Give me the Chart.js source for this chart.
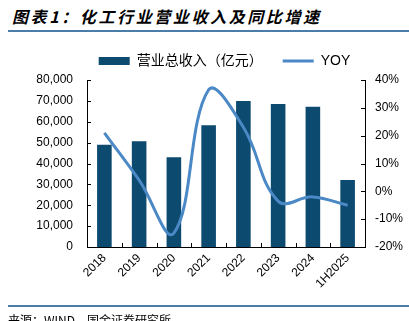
<!DOCTYPE html>
<html>
<head>
<meta charset="utf-8">
<script src="https://cdn.jsdelivr.net/npm/chart.js@4"></script>
<style>
  html, body { margin: 0; padding: 0; background: #fff; }
  #wrap { position: relative; width: 409px; height: 321px; overflow: hidden; }
  #chart { position: absolute; left: 0; top: 0; }
  .title {
    position: absolute; left: 12px; top: 4px;
    font: italic bold 16px "Noto Sans CJK SC", sans-serif;
    letter-spacing: 2.6px; color: #000; white-space: nowrap;
  }
  .rule { position: absolute; left: 8px; right: 0; height: 2px; background: #4a7ea8; }
  .source {
    position: absolute; left: 8px; top: 311px;
    font: 12px "Noto Sans CJK SC", sans-serif; color: #000; white-space: nowrap;
  }
</style>
</head>
<body>
<div id="wrap">
  <div class="title">图表1：化工行业营业收入及同比增速</div>
  <div class="rule" style="top:30px"></div>
  <canvas id="chart" width="409" height="321"></canvas>
  <div class="rule" style="top:305px"></div>
  <div class="source">来源：WIND，国金证券研究所</div>
</div>
<script>
// chart data
const years = ['2018', '2019', '2020', '2021', '2022', '2023', '2024', '1H2025'];
const revenue = [49000, 50600, 43000, 58300, 70000, 68500, 67200, 32100]; // 亿元
const yoy = [21, 4, -15, 36.5, 23, -3.5, -2, -5]; // %
const revTicks = [0, 10000, 20000, 30000, 40000, 50000, 60000, 70000, 80000];
const yoyTicks = [-20, -10, 0, 10, 20, 30, 40];

const font = '"Liberation Sans", Arial, "Noto Sans CJK SC", sans-serif';

// inward tick marks, like the original
const innerTicks = {
  id: 'innerTicks',
  afterDatasetsDraw(chart) {
    const { ctx, chartArea, scales } = chart;
    ctx.save();
    ctx.strokeStyle = '#000';
    ctx.lineWidth = 1;
    ctx.beginPath();
    scales.y.ticks.forEach((t, i) => {
      const yy = Math.round(scales.y.getPixelForTick(i)) + 0.5;
      ctx.moveTo(chartArea.left, yy);
      ctx.lineTo(chartArea.left + 4, yy);
    });
    scales.y1.ticks.forEach((t, i) => {
      const yy = Math.round(scales.y1.getPixelForTick(i)) + 0.5;
      ctx.moveTo(chartArea.right, yy);
      ctx.lineTo(chartArea.right - 4, yy);
    });
    for (let i = 1; i < years.length; i++) {
      const xx = Math.round(scales.x.getPixelForValue(i - 0.5)) + 0.5;
      ctx.moveTo(xx, chartArea.bottom);
      ctx.lineTo(xx, chartArea.bottom - 4);
    }
    ctx.stroke();
    ctx.restore();
  }
};

// fixed legend height, legend centred over the plot area
const legendBox = {
  id: 'legendBox',
  beforeInit(chart) {
    const fit = chart.legend.fit;
    chart.legend.fit = function () {
      fit.bind(chart.legend)();
      this.height = 46;
    };
  },
  afterLayout(chart) {
    chart.legend.left = 40;
  }
};

new Chart(document.getElementById('chart').getContext('2d'), {
  data: {
    labels: years,
    datasets: [
      {
        type: 'bar',
        label: '营业总收入（亿元）',
        data: revenue,
        backgroundColor: '#0c4a6f',
        yAxisID: 'y',
        order: 1,
        categoryPercentage: 1,
        barPercentage: 0.42,
        pointStyle: 'rect'
      },
      {
        type: 'line',
        label: 'YOY',
        data: yoy,
        borderColor: '#4a88c6',
        backgroundColor: '#4a88c6',
        borderWidth: 3,
        tension: 0.4,
        pointRadius: 0,
        pointStyle: 'line',
        yAxisID: 'y1',
        order: 0
      }
    ]
  },
  options: {
    responsive: false,
    animation: false,
    layout: { padding: { top: 34, left: 0, right: 0, bottom: 0 } },
    plugins: {
      tooltip: { enabled: false },
      legend: {
        position: 'top',
        labels: {
          usePointStyle: true,
          pointStyleWidth: 31,
          boxHeight: 8,
          padding: 20,
          color: '#000',
          font: { family: font, size: 14 },
          sort: (a, b) => a.datasetIndex - b.datasetIndex
        }
      }
    },
    scales: {
      x: {
        offset: true,
        grid: { display: false, drawTicks: false },
        border: { color: '#000', width: 1 },
        ticks: {
          autoSkip: false, maxRotation: 45, minRotation: 45,
          padding: 4, color: '#000',
          font: { family: font, size: 12 }
        },
        afterFit(scale) { scale.height = 74; }
      },
      y: {
        position: 'left',
        min: 0, max: 80000,
        afterBuildTicks(scale) { scale.ticks = revTicks.map(v => ({ value: v })); },
        grid: { display: false, drawTicks: false },
        border: { color: '#000', width: 1 },
        ticks: {
          padding: 14, color: '#000',
          font: { family: font, size: 12 },
          callback: v => v.toLocaleString('en-US')
        },
        afterFit(scale) { scale.width = 87; }
      },
      y1: {
        position: 'right',
        min: -20, max: 40,
        afterBuildTicks(scale) { scale.ticks = yoyTicks.map(v => ({ value: v })); },
        grid: { display: false, drawTicks: false },
        border: { color: '#000', width: 1 },
        ticks: {
          padding: 10, color: '#000',
          font: { family: font, size: 12 },
          callback: v => v + '%'
        },
        afterFit(scale) { scale.width = 44; }
      }
    }
  },
  plugins: [innerTicks, legendBox]
});
</script>
</body>
</html>
